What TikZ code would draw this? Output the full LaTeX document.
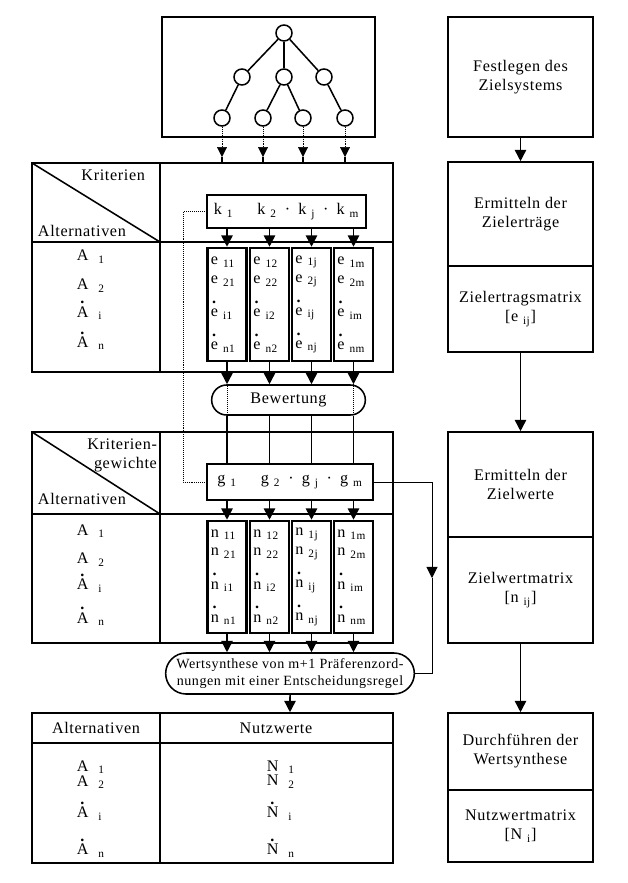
\documentclass[tikz,border=0pt]{standalone}
\usepackage{fontspec}
\setmainfont{Liberation Serif}[LetterSpace=4]
\usepackage{tikz}
\usetikzlibrary{shapes, arrows.meta, positioning, calc}

\newcommand{\idx}[2][0.3em]{\hspace{#1}\textsubscript{#2}}
\newcommand{\pdot}[1]{\ooalign{#1\cr\hidewidth\smash{\raisebox{0.82em}{\textbf{.}}}\hidewidth\cr}}

\begin{document}
\begin{tikzpicture}[
        x=0.025cm, y=-0.025cm,
        font=\fontsize{11.5}{13.5}\selectfont,
        thick/.style={line width=1.1pt},
        stage/.style={
            rectangle,
            draw,
            thick,
            minimum width=3.625cm,
            align=center
        },
        matcol/.style={
            rectangle,
            draw,
            line width=1.8pt,
            minimum width=0.98cm,
            text width=0.8cm,
            inner sep=1pt,
            align=left
        },
        vertex/.style={circle, draw, thick, minimum size=0.4cm, inner sep=0pt},
        oval/.style={rounded rectangle, draw, thick, align=center},
        tablebox/.style={rectangle, draw, thick, minimum width=9.025cm},
        vecbox/.style={rectangle, draw, thick},
        flowarrow/.style={thick, -{Triangle[width=8pt,length=8pt]}}
    ]
    \useasboundingbox (0,0) rectangle (627,883);

    % Zielsystem
    \node[rectangle, draw, thick, minimum width=5.325cm, minimum height=3cm] (baum) at (268.5, 77) {};
    \node[vertex] (ziel) at (284, 33) {};
    \node[vertex] (teil1) at (242, 77) {};
    \node[vertex] (teil2) at (284, 77) {};
    \node[vertex] (teil3) at (324, 77) {};
    \node[vertex] (krit1) at (222, 118) {};
    \node[vertex] (krit2) at (263, 118) {};
    \node[vertex] (krit3) at (303, 118) {};
    \node[vertex] (krit4) at (345, 118) {};

    % Ablauf rechts
    \node[stage, minimum height=3cm] (festlegen) at (520.5, 77) {Festlegen des\\Zielsystems};
    \node[stage, minimum height=2.6cm] (ertraege) at (520.5, 214) {Ermitteln der\\Zielerträge};
    \node[stage, minimum height=2.15cm] (ematrix) at (520.5, 309) {Zielertragsmatrix\\{}[e\idx{ij}]};
    \node[stage, minimum height=2.625cm] (zielwerte) at (520.5, 484.5) {Ermitteln der\\Zielwerte};
    \node[stage, minimum height=2.65cm] (nmatrix) at (520.5, 590) {Zielwertmatrix\\{}[n\idx{ij}]};
    \node[stage, minimum height=1.925cm] (synthese) at (520.5, 751.5) {Durchführen der\\Wertsynthese};
    \node[stage, minimum height=1.8cm] (nutzmatrix) at (520.5, 826) {Nutzwertmatrix\\{}[N\idx{i}]};

    % Tabellen
    \node[tablebox, minimum height=5.225cm] (tabK) at (212.5, 267.5) {};
    \node[tablebox, minimum height=5.275cm] (tabG) at (212.5, 537.5) {};
    \node[tablebox, minimum height=3.75cm] (tabN) at (212.5, 788) {};
    \draw[thick] (160,163) -- (160,372) (32,242) -- (393,242) (32,163) -- (160,242);
    \draw[thick] (160,432) -- (160,643) (32,514) -- (393,514) (32,432) -- (160,514);
    \draw[thick] (160,713) -- (160,863) (32,743) -- (393,743);

    \node[anchor=east] (kritK) at (150,175) {Kriterien};
    \node[anchor=west] (altK) at (33,231) {Alternativen};
    \node[anchor=west, align=left] (listK) at (72,300) {A\idx[0.6em]{1}\\[7pt] A\idx[0.6em]{2}\\[6pt] \pdot{A}\idx[0.6em]{i}\\[8pt] \pdot{A}\idx[0.6em]{n}};

    \node[anchor=east, align=right, inner sep=2pt] (kritG) at (160,455) {Kriterien-\\gewichte};
    \node[anchor=west] (altG) at (33,499) {Alternativen};
    \node[anchor=west, align=left] (listG) at (72,575) {A\idx[0.6em]{1}\\[7pt] A\idx[0.6em]{2}\\[5pt] \pdot{A}\idx[0.6em]{i}\\[10pt] \pdot{A}\idx[0.6em]{n}};

    \node (altN) at (96,728) {Alternativen};
    \node (nutzN) at (276,728) {Nutzwerte};
    \node[anchor=west, align=left] (listN) at (72,809) {A\idx[0.6em]{1}\\[-3pt] A\idx[0.6em]{2}\\[9pt] \pdot{A}\idx[0.6em]{i}\\[13pt] \pdot{A}\idx[0.6em]{n}};
    \node[anchor=west, align=left] (werteN) at (262,809) {N\idx[0.6em]{1}\\[-3pt] N\idx[0.6em]{2}\\[9pt] \pdot{N}\idx[0.6em]{i}\\[13pt] \pdot{N}\idx[0.6em]{n}};

    % Kriterien, Zielerträge, Bewertung
    \node[vecbox, minimum width=3.975cm, minimum height=0.825cm] (kbox) at (286.5, 211.5) {k\idx{1}\hspace{1.5em}k\idx{2}\hspace{0.5em}·\hspace{0.5em}k\idx{j}\hspace{0.5em}·\hspace{0.5em}k\idx{m}};
    \node[matcol, minimum height=2.825cm] (e1) at (227, 304.5) {e\idx{11}\\ e\idx{21}\\[10pt] \pdot{e}\idx{i1}\\[10pt] \pdot{e}\idx{n1}};
    \node[matcol, minimum height=2.825cm] (e2) at (269.5, 304.5) {e\idx{12}\\ e\idx{22}\\[10pt] \pdot{e}\idx{i2}\\[10pt] \pdot{e}\idx{n2}};
    \node[matcol, minimum height=2.825cm] (e3) at (311.5, 304.5) {e\idx{1j}\\ e\idx{2j}\\[10pt] \pdot{e}\idx{ij}\\[10pt] \pdot{e}\idx{nj}};
    \node[matcol, minimum height=2.825cm] (e4) at (353.5, 304.5) {e\idx{1m}\\ e\idx{2m}\\[10pt] \pdot{e}\idx{im}\\[10pt] \pdot{e}\idx{nm}};
    \node[oval, minimum width=4.075cm, minimum height=0.75cm] (bew) at (288.5, 400) {Bewertung};

    % Gewichte, Zielwerte, Wertsynthese
    \node[vecbox, minimum width=4.15cm, minimum height=0.9cm] (gbox) at (290, 482) {g\idx{1}\hspace{1.5em}g\idx{2}\hspace{0.5em}·\hspace{0.5em}g\idx{j}\hspace{0.5em}·\hspace{0.5em}g\idx{m}};
    \node[matcol, minimum height=2.8cm] (n1) at (227, 577) {n\idx{11}\\ n\idx{21}\\[10pt] \pdot{n}\idx{i1}\\[10pt] \pdot{n}\idx{n1}};
    \node[matcol, minimum height=2.8cm] (n2) at (269.5, 577) {n\idx{12}\\ n\idx{22}\\[10pt] \pdot{n}\idx{i2}\\[10pt] \pdot{n}\idx{n2}};
    \node[matcol, minimum height=2.8cm] (n3) at (311.5, 577) {n\idx{1j}\\ n\idx{2j}\\[10pt] \pdot{n}\idx{ij}\\[10pt] \pdot{n}\idx{nj}};
    \node[matcol, minimum height=2.8cm] (n4) at (353.5, 577) {n\idx{1m}\\ n\idx{2m}\\[10pt] \pdot{n}\idx{im}\\[10pt] \pdot{n}\idx{nm}};
    \node[oval, minimum width=6.45cm, minimum height=1.025cm, font=\fontsize{10}{12}\selectfont] (synth) at (290, 673.5) {Wertsynthese von m+1 Präferenzord-\\nungen mit einer Entscheidungsregel};

    \coordinate (umweg) at (183, 211.5);
    \coordinate (rueck) at (432, 578);

    % Relationships
    \draw[thick] (ziel) -- (teil1);
    \draw[thick] (ziel) -- (teil2);
    \draw[thick] (ziel) -- (teil3);
    \draw[thick] (teil1) -- (krit1);
    \draw[thick] (teil2) -- (krit2);
    \draw[thick] (teil2) -- (krit3);
    \draw[thick] (teil3) -- (krit4);

    \draw[densely dotted, -{Triangle[width=7pt,length=7pt]}] (krit1) -- (krit1 |- 0,157);
    \draw[densely dotted, -{Triangle[width=7pt,length=7pt]}] (krit2) -- (krit2 |- 0,157);
    \draw[densely dotted, -{Triangle[width=7pt,length=7pt]}] (krit3) -- (krit3 |- 0,157);
    \draw[densely dotted, -{Triangle[width=7pt,length=7pt]}] (krit4) -- (krit4 |- 0,157);
    \draw[thick] (krit1 |- 0,157) -- (krit1 |- tabK.north);
    \draw[thick] (krit2 |- 0,157) -- (krit2 |- tabK.north);
    \draw[thick] (krit3 |- 0,157) -- (krit3 |- tabK.north);
    \draw[thick] (krit4 |- 0,157) -- (krit4 |- tabK.north);

    \draw[flowarrow] (festlegen) -- (ertraege);
    \draw[flowarrow] (ematrix) -- (zielwerte);
    \draw[flowarrow] (nmatrix) -- (synthese);

    \draw[flowarrow] (kbox.south -| e1) -- (e1);
    \draw[flowarrow] (kbox.south -| e2) -- (e2);
    \draw[flowarrow] (kbox.south -| e3) -- (e3);
    \draw[flowarrow] (kbox.south -| e4) -- (e4);
    \draw[flowarrow] (e1) -- (e1 |- bew.north);
    \draw[flowarrow] (e2) -- (e2 |- bew.north);
    \draw[flowarrow] (e3) -- (e3 |- bew.north);
    \draw[flowarrow] (e4) -- (e4 |- bew.north);
    \draw[densely dotted] (bew.north -| e1) -- (bew.south -| e1);
    \draw[densely dotted] (bew.north -| e4) -- (bew.south -| e4);
    \draw[thick] (bew.south -| e1) -- (gbox.north -| e1);
    \draw[thick] (bew.south -| e2) -- (gbox.north -| e2);
    \draw[thick] (bew.south -| e3) -- (gbox.north -| e3);
    \draw[thick] (bew.south -| e4) -- (gbox.north -| e4);

    \draw[flowarrow] (gbox.south -| n1) -- (n1);
    \draw[flowarrow] (gbox.south -| n2) -- (n2);
    \draw[flowarrow] (gbox.south -| n3) -- (n3);
    \draw[flowarrow] (gbox.south -| n4) -- (n4);
    \draw[flowarrow] (n1) -- (n1 |- synth.north);
    \draw[flowarrow] (n2) -- (n2 |- synth.north);
    \draw[flowarrow] (n3) -- (n3 |- synth.north);
    \draw[flowarrow] (n4) -- (n4 |- synth.north);
    \draw[flowarrow] (synth) -- (synth |- tabN.north);

    \draw[densely dotted] (kbox.west) -- (umweg) |- (gbox.west);
    \draw[flowarrow, semithick] (gbox.east) -| (rueck);
    \draw[semithick] (rueck) |- (synth.east);

    \end{tikzpicture}
\end{document}
